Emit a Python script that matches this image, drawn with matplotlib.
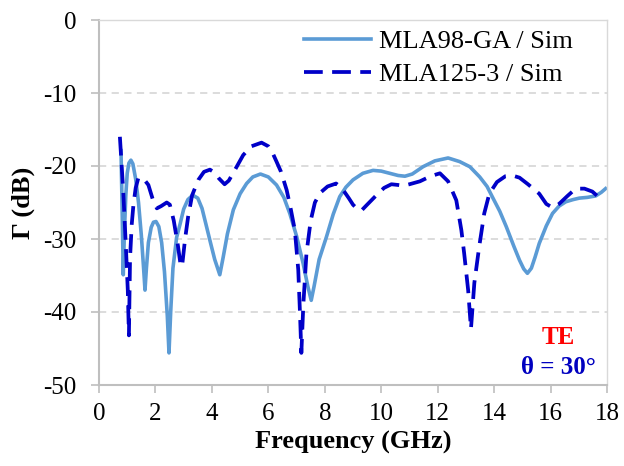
import numpy as np
import matplotlib
matplotlib.use('Agg')
import matplotlib.pyplot as plt

# MLA98-GA / Sim (solid)
f_ga = [0.78, 0.82, 0.86, 0.9, 0.95, 1.0, 1.06, 1.13, 1.2, 1.3, 1.4, 1.5, 1.58, 1.63, 1.68, 1.75,
        1.85, 1.93, 2.02, 2.12, 2.22, 2.32, 2.42, 2.48, 2.54, 2.62, 2.75, 2.87, 3.0, 3.15, 3.32, 3.5,
        3.65, 3.81, 3.95, 4.1, 4.28, 4.4, 4.55, 4.76, 5.0, 5.23, 5.45, 5.72, 6.0, 6.29, 6.55, 6.76,
        7.0, 7.23, 7.4, 7.52, 7.62, 7.8, 8.06, 8.3, 8.53, 8.75, 9.0, 9.35, 9.71, 10.0, 10.3, 10.6,
        10.84, 11.1, 11.48, 11.9, 12.37, 12.78, 13.14, 13.49, 13.75, 13.96, 14.2, 14.43, 14.7, 14.9,
        15.05, 15.18, 15.32, 15.45, 15.6, 15.85, 16.07, 16.3, 16.54, 16.8, 17.02, 17.3, 17.6, 17.8, 17.95]
g_ga = [-17.9, -26, -34.9, -29, -24, -21, -19.6, -19.2, -19.7, -21.8, -25, -29.5, -34, -37.0, -34, -30.5,
        -28.4, -27.7, -27.6, -28.3, -30.5, -34.5, -40.5, -45.6, -40, -34, -29.8, -28, -25.9, -24.6, -24.0, -24.4,
        -25.8, -28.3, -30.5, -32.8, -34.9, -32.5, -29.3, -26.0, -23.8, -22.4, -21.5, -21.1, -21.5, -22.6, -24.3, -26.5,
        -29.6, -33.3, -36.5, -38.4, -36.5, -32.8, -29.7, -26.6, -24.2, -22.9, -21.9, -21.0, -20.6, -20.7, -21.0, -21.3,
        -21.4, -21.1, -20.1, -19.3, -18.9, -19.4, -20.1, -21.5, -22.8, -24.4, -26.2, -28.3, -31.0, -32.9,
        -34.1, -34.7, -34.0, -32.5, -30.6, -28.2, -26.5, -25.5, -24.9, -24.6, -24.4, -24.3, -24.1, -23.6, -23.1]

# MLA125-3 / Sim (dashed)
f_125 = [0.74, 0.86, 0.96, 1.02, 1.06, 1.10, 1.16, 1.22, 1.3, 1.39, 1.55, 1.75, 1.9, 2.05, 2.2, 2.4,
         2.51, 2.65, 2.8, 2.9, 2.95, 3.05, 3.16, 3.3, 3.52, 3.72, 3.93, 4.1, 4.25, 4.45, 4.6, 4.85,
         5.11, 5.4, 5.76, 6.0, 6.15, 6.29, 6.45, 6.65, 6.8, 6.94, 7.06, 7.12, 7.17, 7.24, 7.35, 7.5,
         7.65, 7.83, 8.1, 8.4, 8.6, 8.85, 9.0, 9.18, 9.3, 9.5, 9.83, 10.1, 10.36, 10.6, 10.78, 11.0,
         11.37, 11.75, 12.08, 12.37, 12.66, 12.84, 12.94, 13.08, 13.18, 13.3, 13.47, 13.65, 13.83, 14.1,
         14.4, 14.65, 14.9, 15.2, 15.6, 15.85, 16.07, 16.3, 16.6, 16.89, 17.2, 17.48, 17.83]
g_125 = [-16.0, -23.5, -31.7, -37, -43.2, -32.6, -28, -25.3, -23, -21.7, -21.6, -22.6, -24.5, -25.8, -25.5, -25,
         -25.3, -27.5, -31, -33.8, -33.5, -30, -26.9, -24, -21.9, -20.8, -20.5, -20.9, -21.7, -22.5, -22.0, -20.3,
         -18.5, -17.3, -16.8, -17.3, -18.2, -19.4, -20.8, -23.3, -26, -28.8, -34.2, -40, -45.6, -39, -32, -27.5,
         -25.0, -23.7, -22.8, -22.4, -23.0, -24.4, -25.3, -26.0, -26.1, -25.3, -24.0, -23.0, -22.5, -22.6, -22.7, -22.5,
         -22.1, -21.4, -21.0, -22.1, -24.7, -28.8, -32.0, -37, -42.3, -36, -31.1, -26.5, -23.8, -22.2,
         -21.4, -21.3, -21.6, -22.5, -23.8, -25.2, -25.7, -25.2, -24.1, -23.1, -23.1, -23.5, -24.7]

xticks = [0, 2, 4, 6, 8, 10, 12, 14, 16, 18]
yticks = [0, -10, -20, -30, -40, -50]

plt.rcParams['font.family'] = ['Liberation Serif', 'DejaVu Serif']
plt.rcParams['axes.unicode_minus'] = False
fig = plt.figure(figsize=(6.24, 4.66), dpi=100)
W, H = 624, 466
ax = fig.add_axes([99 / W, 1 - 385 / H, (607 - 99) / W, (385 - 20) / H])

ax.plot(f_ga, g_ga, color='#5B9BD5', lw=2.6, label='MLA98-GA / Sim', solid_joinstyle='round')
ax.plot(f_125, g_125, color='#0000C8', lw=2.7, ls=(0, (5.0, 2.5)), label='MLA125-3 / Sim')

ax.set_xlim(0, 18)
ax.set_ylim(-50, 0)
ax.set_xticks(xticks)
ax.set_yticks(yticks)
ax.tick_params(labelsize=18, color='#BFBFBF', length=6, width=1.2, direction='out')
ax.tick_params(axis='y', pad=10)
ax.tick_params(axis='x', pad=7)
for t in yticks[1:-1]:
    ax.axhline(t, color='#D9D9D9', lw=1.3, ls=(0, (4, 3)), zorder=0)
for s in ['left', 'bottom']:
    ax.spines[s].set_color('#BFBFBF')
    ax.spines[s].set_linewidth(1.5)
for s in ['top', 'right']:
    ax.spines[s].set_color('#D9D9D9')
    ax.spines[s].set_linewidth(1.0)

ax.set_xlabel('Frequency (GHz)', fontsize=19, fontweight='bold', labelpad=4)
ax.set_ylabel('Γ (dB)', fontsize=19, fontweight='bold', labelpad=6)

leg = ax.legend(loc='upper left', bbox_to_anchor=(304 / W, 1 - 30 / H), bbox_transform=fig.transFigure,
                frameon=False, fontsize=19, handlelength=2.55, handletextpad=0.3, labelspacing=0.36,
                borderpad=0, borderaxespad=0)

fig.text(558 / W, 1 - 337 / H, 'TE', color='red', fontsize=18, fontweight='bold', ha='center', va='center')
fig.text(558 / W, 1 - 368 / H, 'θ = 30°', color='#0000C0', fontsize=18, fontweight='bold', ha='center', va='center')

fig.savefig('out.png', dpi=100)
